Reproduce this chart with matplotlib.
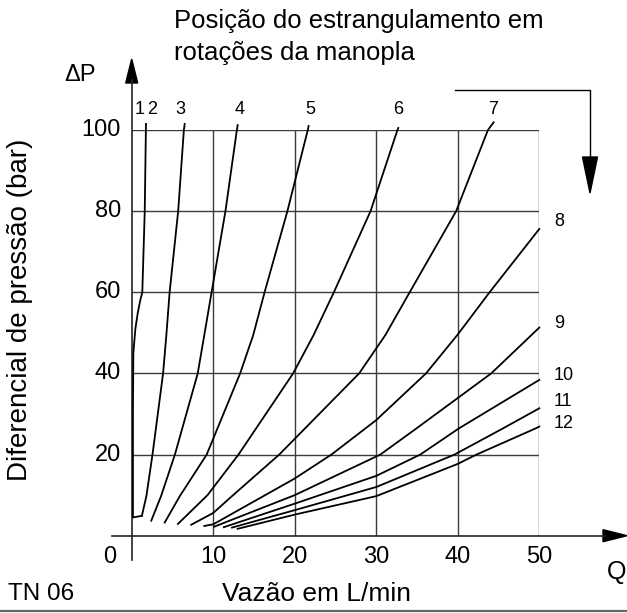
import matplotlib
matplotlib.use('Agg')
import matplotlib.pyplot as plt
from matplotlib.patches import Polygon
from matplotlib.lines import Line2D

plt.rcParams['font.family'] = ['Liberation Sans', 'DejaVu Sans']

# ---- data ----
x_ticks = [0, 10, 20, 30, 40, 50]
y_ticks = [20, 40, 60, 80, 100]

q_c12 = [1.25, 0.15, 0.15, 0.2, 0.45, 0.75, 1.05, 1.3, 1.6, 1.75]
p_c12 = [4.9, 4.5, 30, 45, 51, 55, 58, 60, 80, 101.5]
q_c3 = [1.25, 1.8, 2.55, 3.85, 4.25, 4.65, 5.7, 6.4, 6.5]
p_c3 = [4.9, 9.75, 20, 40, 49.4, 60, 80, 100, 101.5]
q_c4 = [2.4, 3.6, 5.3, 8.1, 8.9, 9.8, 11.5, 12.9, 13.0]
p_c4 = [3.7, 9.75, 20, 40, 49.4, 60, 80, 100, 101.2]
q_c5 = [4.05, 5.9, 9.2, 13.3, 14.9, 16.3, 19.1, 21.6, 21.7]
p_c5 = [3.25, 9.75, 20, 40, 49.4, 60, 80, 100, 101]
q_c6 = [5.67, 9.3, 13.1, 19.8, 22.3, 24.8, 29.3, 32.6, 32.7]
p_c6 = [2.9, 10, 20, 40, 49.4, 60, 80, 100, 100.5]
q_c7 = [7.3, 10, 12.3, 18.1, 27.9, 31.1, 34.1, 39.8, 43.7, 44.4]
p_c7 = [2.7, 5.6, 9.75, 20, 40, 49.4, 60, 80, 100, 101.9]
q_c8 = [8.9, 10, 20, 24.5, 30, 36.1, 40, 43.9, 50]
p_c8 = [2.4, 2.8, 14.1, 20, 28.5, 40, 49.6, 60, 75.6]
q_c9 = [10.1, 20, 30.5, 34.9, 44.1, 50]
p_c9 = [2.2, 10, 20, 26.4, 40, 51.3]
q_c10 = [11.3, 20, 30, 35.4, 40.1, 50]
p_c10 = [2.1, 7.9, 14.75, 20, 26.4, 38.4]
q_c11 = [12.3, 20, 30, 39.6, 45.5, 50]
p_c11 = [2.0, 6.3, 12, 20, 26.4, 31.4]
q_c12b = [13.0, 20, 30, 40, 42.3, 49.5, 50]
p_c12b = [1.7, 5.2, 9.75, 17.7, 20, 26.4, 26.9]

curves = [(q_c12, p_c12), (q_c3, p_c3), (q_c4, p_c4), (q_c5, p_c5),
          (q_c6, p_c6), (q_c7, p_c7), (q_c8, p_c8), (q_c9, p_c9),
          (q_c10, p_c10), (q_c11, p_c11), (q_c12b, p_c12b)]

top_labels = ['1', '2', '3', '4', '5', '6', '7']
right_labels = ['8', '9', '10', '11', '12']

title = 'Posição do estrangulamento em\nrotações da manopla'
ylabel = 'Diferencial de pressão (bar)'
xlabel = 'Vazão em L/min'

# ---- layout ----
W, H = 627, 613
fig = plt.figure(figsize=(W / 100, H / 100), dpi=100)
L, R, T, B = 131.7, 539.3, 130.0, 535.7
ax = fig.add_axes([L / W, 1 - B / H, (R - L) / W, (B - T) / H])
ax.set_xlim(0, 50)
ax.set_ylim(0, 100)
ax.axis('off')


def px(x, y):
    return ((x - L) / (R - L) * 50, (B - y) / (B - T) * 100)


def fx(x, y):
    return (x / W, 1 - y / H)


grid_col = '#3c3c3c'
for xv in x_ticks[1:]:
    ax.plot([xv, xv], [0, 100], color=grid_col, lw=1.0, zorder=1)
for yv in y_ticks:
    ax.plot([0, 50], [yv, yv], color=grid_col, lw=1.0, zorder=1)

# axes lines with arrows
a0 = px(L, 560); a1 = px(L, 80)
ax.plot([a0[0], a1[0]], [a0[1], a1[1]], color='#222', lw=1.2, clip_on=False)
tri = [px(L, 59), px(L - 6, 83), px(L + 6, 83)]
ax.add_patch(Polygon(tri, closed=True, color='black', clip_on=False))
b0 = px(112, B); b1 = px(605, B)
ax.plot([b0[0], b1[0]], [b0[1], b1[1]], color='#222', lw=1.2, clip_on=False)
tri = [px(627, B), px(603, B - 6), px(603, B + 6)]
ax.add_patch(Polygon(tri, closed=True, color='black', clip_on=False))

# top-right bent arrow
p1 = px(455, 90); p2 = px(590, 90); p3 = px(590, 160)
ax.plot([p1[0], p2[0], p3[0]], [p1[1], p2[1], p3[1]], color='black', lw=1.0, clip_on=False)
tri = [px(590, 193), px(582.5, 157), px(597.5, 157)]
ax.add_patch(Polygon(tri, closed=True, color='black', clip_on=False))

# curves
for q, p in curves:
    ax.plot(q, p, color='black', lw=1.3, clip_on=False, zorder=3,
            solid_joinstyle='round')

# tick labels
tick_fs = 17
for xv in x_ticks:
    xp = L + xv / 50 * (R - L)
    if xv == 0:
        xp = 110
    fig.text(*fx(xp, 557), str(xv), ha='center', va='center', fontsize=tick_fs)
for yv in y_ticks:
    yp = B - yv / 100 * (B - T)
    fig.text(*fx(121, yp), str(yv), ha='right', va='center', fontsize=tick_fs)

# curve labels
lab_fs = 13
top_pos = [139.3, 151.7, 180, 240, 310.7, 398, 493.3]
for t, xp in zip(top_labels, top_pos):
    fig.text(*fx(xp, 110), t, ha='center', va='center', fontsize=lab_fs)
right_pos = [(554, 221.7), (554, 324), (554, 375), (554, 401.7), (554, 423.3)]
for t, (xp, yp) in zip(right_labels, right_pos):
    fig.text(*fx(xp, yp), t, ha='left', va='center', fontsize=lab_fs)

# other texts
fig.text(*fx(174, 37), title, ha='left', va='center', fontsize=18.5, linespacing=1.4)
fig.text(*fx(80, 75), 'ΔP', ha='center', va='center', fontsize=tick_fs)
fig.text(*fx(617, 572), 'Q', ha='center', va='center', fontsize=tick_fs + 1)
fig.text(*fx(20, 310), ylabel, ha='center', va='center', rotation=90, fontsize=20)
fig.text(*fx(8, 594), 'TN 06', ha='left', va='center', fontsize=17.5)
fig.text(*fx(316, 594), xlabel, ha='center', va='center', fontsize=19)
fig.add_artist(Line2D([0, 1], [1 - 611 / H] * 2, color='#666666', lw=1.6))

fig.savefig('out.png', dpi=100)
